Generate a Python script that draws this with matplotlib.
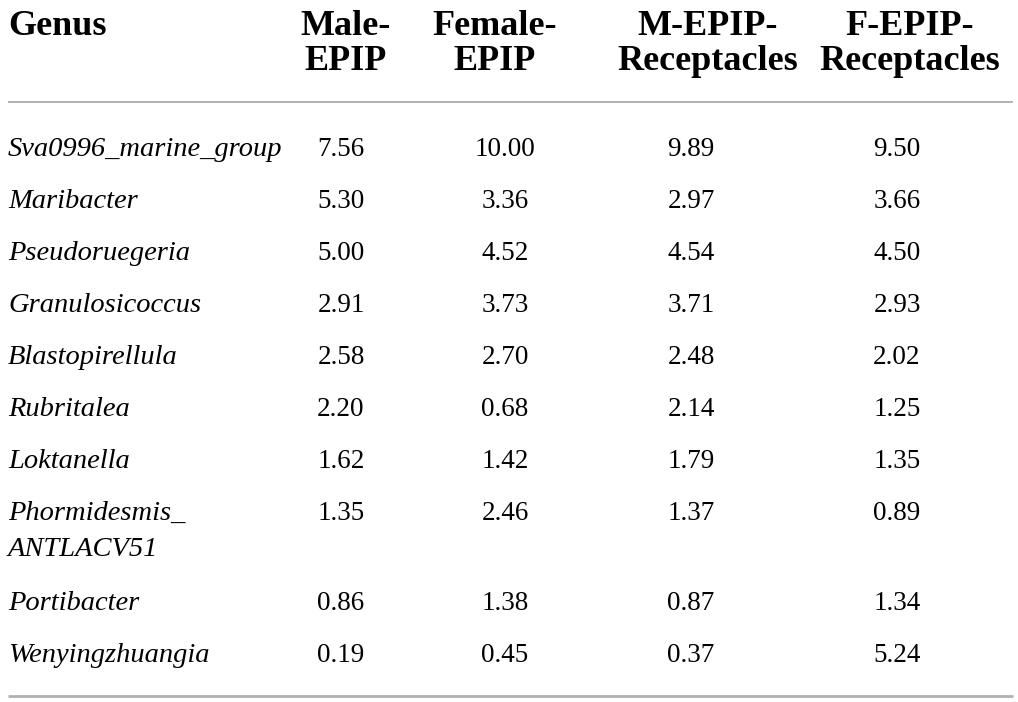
import matplotlib
matplotlib.use("Agg")
import matplotlib.pyplot as plt

# table contents
headers = ["Genus", "Male-\nEPIP", "Female-\nEPIP", "M-EPIP-\nReceptacles", "F-EPIP-\nReceptacles"]
genus = ["Sva0996_marine_group", "Maribacter", "Pseudoruegeria", "Granulosicoccus",
         "Blastopirellula", "Rubritalea", "Loktanella", "Phormidesmis_\nANTLACV51",
         "Portibacter", "Wenyingzhuangia"]
male_epip = ["7.56", "5.30", "5.00", "2.91", "2.58", "2.20", "1.62", "1.35", "0.86", "0.19"]
female_epip = ["10.00", "3.36", "4.52", "3.73", "2.70", "0.68", "1.42", "2.46", "1.38", "0.45"]
m_epip_rec = ["9.89", "2.97", "4.54", "3.71", "2.48", "2.14", "1.79", "1.37", "0.87", "0.37"]
f_epip_rec = ["9.50", "3.66", "4.50", "2.93", "2.02", "1.25", "1.35", "0.89", "1.34", "5.24"]

W, H = 1018, 702
fig = plt.figure(figsize=(W / 100, H / 100), dpi=100)
ax = fig.add_axes([0, 0, 1, 1])
ax.set_xlim(0, W)
ax.set_ylim(H, 0)
ax.axis("off")

font = "Liberation Serif"
head_size = 26
name_size = 20.5
num_size = 19.5

# header, one text per line
head_x = [8, 346, 495, 708, 910]
for i, h in enumerate(headers):
    for k, part in enumerate(h.split("\n")):
        ax.text(head_x[i], 35 + 35 * k, part, ha="left" if i == 0 else "center",
                va="baseline", fontsize=head_size, fontweight="bold", family=font)

ax.plot([8, 1013], [101.5, 101.5], color="#a6a6a6", lw=1.2, solid_capstyle="butt")

# body
num_x = [341, 505, 691, 897]
cols = [male_epip, female_epip, m_epip_rec, f_epip_rec]
y = 156
for r, g in enumerate(genus):
    parts = g.split("\n")
    for k, part in enumerate(parts):
        ax.text(8, y + 36 * k, part, ha="left", va="baseline", fontsize=name_size,
                style="italic", family=font)
    for c, col in enumerate(cols):
        ax.text(num_x[c], y, col[r], ha="center", va="baseline", fontsize=num_size, family=font)
    y += 52 + 38 * (len(parts) - 1)

ax.plot([8, 1013], [695.5, 695.5], color="#b0b0b0", lw=2.0, solid_capstyle="butt")

fig.savefig("out.png", dpi=100, facecolor="white")
